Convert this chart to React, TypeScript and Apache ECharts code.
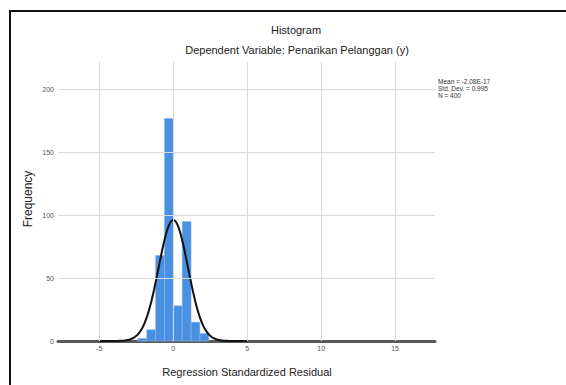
import React, { useEffect, useRef } from "react";
import * as echarts from "echarts";

// ---- Data ----
const BIN_EDGES = [-2.4, -1.8, -1.2, -0.6, 0, 0.6, 1.2, 1.8, 2.4];
const FREQUENCIES = [2, 9, 68, 177, 28, 95, 15, 6];
const X_TICKS = [-5, 0, 5, 10, 15];
const Y_GRID = [50, 100, 150, 200];
const STAT_LINES = ["Mean = -2.08E-17", "Std. Dev. = 0.995", "N = 400"];
const MEAN = 0;
const STD_DEV = 0.995;
const N = 400;
const TITLE = "Histogram";
const SUBTITLE = "Dependent Variable: Penarikan Pelanggan (y)";
const X_NAME = "Regression Standardized Residual";
const Y_NAME = "Frequency";

const FONT = "'Liberation Sans', Arial, sans-serif";

export default function App() {
  const ref = useRef<HTMLDivElement>(null);

  useEffect(() => {
    document.body.style.margin = "0";
    if (!ref.current) return;
    const chart = echarts.init(ref.current, undefined, { renderer: "svg" });

    const bins = FREQUENCIES.map((f, i) => [BIN_EDGES[i], BIN_EDGES[i + 1], f]);
    const binWidth = BIN_EDGES[1] - BIN_EDGES[0];
    // fitted normal curve from the reported statistics (as SPSS draws it)
    const curve: number[][] = [];
    for (let k = -50; k <= 50; k++) {
      const x = MEAN + k * 0.1;
      const z = (x - MEAN) / STD_DEV;
      curve.push([x, (N * binWidth * Math.exp(-0.5 * z * z)) / (STD_DEV * Math.sqrt(2 * Math.PI))]);
    }

    chart.setOption({
      animation: false,
      grid: { left: 58, right: 131, top: 62, bottom: 44, containLabel: false },
      xAxis: {
        type: "value",
        min: -7.8,
        max: 17.7,
        axisLabel: { show: false },
        axisTick: { show: false },
        splitLine: { show: false },
        axisLine: { lineStyle: { color: "#5a5a5a", width: 3 } },
      },
      yAxis: {
        type: "value",
        min: 0,
        max: 222,
        interval: 50,
        axisLabel: { fontSize: 7, color: "#555", margin: 4, showMaxLabel: false, fontFamily: FONT },
        axisTick: { show: false },
        splitLine: { show: false },
        axisLine: { show: true, lineStyle: { color: "#bdbdbd", width: 1 } },
      },
      series: [
        {
          type: "line",
          data: [[0, 0]],
          z: 0,
          symbol: "none",
          lineStyle: { opacity: 0 },
          silent: true,
          markLine: {
            silent: true,
            symbol: "none",
            animation: false,
            lineStyle: { color: "#d9d9d9", width: 1, type: "solid" },
            data: [
              ...X_TICKS.map((v) => ({
                xAxis: v,
                label: {
                  show: true,
                  position: "start",
                  formatter: String(v),
                  fontSize: 7,
                  color: "#555",
                  distance: 4,
                  fontFamily: FONT,
                },
              })),
              ...Y_GRID.map((v) => ({ yAxis: v, label: { show: false } })),
            ],
          },
        },
        {
          type: "custom",
          z: 2,
          data: bins,
          encode: { x: [0, 1], y: 2 },
          renderItem: (params: any, api: any) => {
            const p0 = api.coord([api.value(0), api.value(2)]);
            const p1 = api.coord([api.value(1), 0]);
            return {
              type: "rect",
              shape: { x: p0[0], y: p0[1], width: p1[0] - p0[0], height: p1[1] - p0[1] },
              style: { fill: "#4a90e2", stroke: "#86b6ee", lineWidth: 0.6 },
            };
          },
        },
        {
          type: "line",
          z: 3,
          data: curve,
          smooth: true,
          symbol: "none",
          lineStyle: { color: "#111", width: 2 },
        },
      ],
      graphic: [
        {
          type: "rect",
          shape: { x: 10, y: 11, width: 600, height: 420 },
          style: { fill: "none", stroke: "#111", lineWidth: 2 },
          silent: true,
        },
        {
          type: "text",
          x: 296,
          y: 30,
          style: { text: TITLE, fontSize: 11, fill: "#222", textAlign: "center", textVerticalAlign: "middle", fontFamily: FONT },
        },
        {
          type: "text",
          x: 297,
          y: 50,
          style: { text: SUBTITLE, fontSize: 11, fill: "#222", textAlign: "center", textVerticalAlign: "middle", fontFamily: FONT },
        },
        {
          type: "text",
          x: 247,
          y: 372,
          style: { text: X_NAME, fontSize: 11, fill: "#222", textAlign: "center", textVerticalAlign: "middle", fontFamily: FONT },
        },
        {
          type: "text",
          x: 28,
          y: 199,
          rotation: Math.PI / 2,
          style: { text: Y_NAME, fontSize: 12, fill: "#222", textAlign: "center", textVerticalAlign: "middle", fontFamily: FONT },
        },
        ...STAT_LINES.map((t, i) => ({
          type: "text",
          x: 438,
          y: 81 + i * 7,
          style: { text: t, fontSize: 6.5, fill: "#333", textAlign: "left", textVerticalAlign: "middle", fontFamily: FONT },
        })),
      ],
    });

    return () => chart.dispose();
  }, []);

  return (
    <div
      ref={ref}
      style={{ position: "fixed", left: 0, top: 0, width: 566, height: 385, background: "#fff" }}
    />
  );
}
